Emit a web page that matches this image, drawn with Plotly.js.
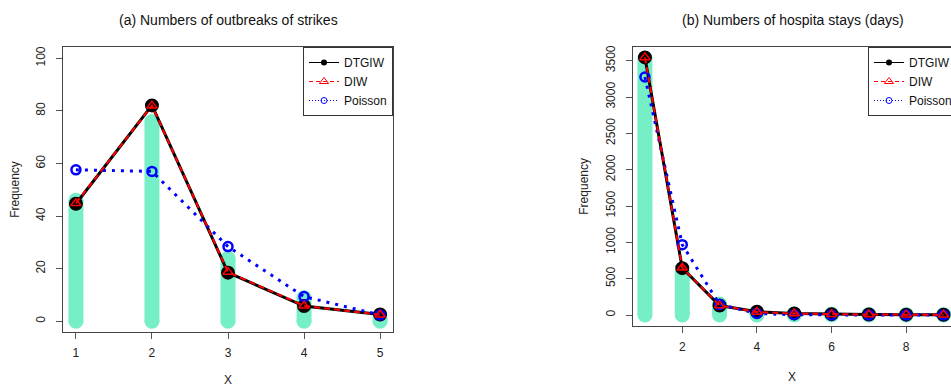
<!DOCTYPE html>
<html>
<head>
<meta charset="utf-8">
<script src="https://cdn.plot.ly/plotly-3.0.1.min.js"></script>
<style>html,body{margin:0;padding:0;background:#fff;}#chart{width:951px;height:387px;}</style>
</head>
<body>
<div id="chart"></div>
<script>
// Panel (a): numbers of outbreaks of strikes
const xA = [1, 2, 3, 4, 5];
const obsA = [46, 76, 24, 9, 1];
const dtgiwA = [44.7, 82.1, 18.5, 5.8, 2.6];
const diwA = [44.9, 82.0, 18.7, 5.9, 2.5];
const poisA = [57.6, 57.0, 28.4, 9.4, 2.4];

// Panel (b): numbers of hospital stays (days)
const xB = [1, 2, 3, 4, 5, 6, 7, 8, 9];
const obsB = [3530, 585, 150, 35, 15, 10, 6, 5, 3];
const dtgiwB = [3545, 645, 130, 45, 22, 12, 7, 5, 3];
const diwB = [3545, 650, 132, 42, 20, 11, 7, 5, 3];
const poisB = [3275, 968, 145, 22, 3, 0.3, 0, 0, 0];

const titleA = "(a) Numbers of outbreaks of strikes";
const titleB = "(b) Numbers of hospita stays (days)";

const BAR = "#76EEC6";
const FONT = "Liberation Sans, Arial, sans-serif";

function stems(xs, ys) {
  const sx = [], sy = [];
  xs.forEach((x, i) => { sx.push(x, x, null); sy.push(0, ys[i], null); });
  return {sx, sy};
}

function panelTraces(xs, obs, dt, di, po, xa, ya, leg) {
  const s = stems(xs, obs);
  return [
    {type: "scatter", mode: "lines+markers", x: s.sx, y: s.sy, xaxis: xa, yaxis: ya,
     line: {color: BAR, width: 15}, marker: {color: BAR, size: 15, line: {width: 0}},
     showlegend: false, hoverinfo: "skip", connectgaps: false},
    {type: "scatter", mode: "lines+markers", x: xs, y: dt, xaxis: xa, yaxis: ya,
     line: {color: "black", width: 3}, marker: {symbol: "circle", color: "black", size: 12, line: {color: "black", width: 2}},
     showlegend: false},
    {type: "scatter", mode: "lines+markers", x: xs, y: po, xaxis: xa, yaxis: ya,
     line: {color: "blue", width: 3, dash: "3px,6px"}, marker: {symbol: "circle-open", color: "blue", size: 9, line: {color: "blue", width: 2.5}},
     showlegend: false},
    {type: "scatter", mode: "lines+markers", x: xs, y: di, xaxis: xa, yaxis: ya,
     line: {color: "red", width: 2, dash: "6px,4px"}, marker: {symbol: "triangle-up-open", color: "red", size: 9, line: {color: "red", width: 1.5}},
     showlegend: false},
    // legend entries
    {type: "scatter", mode: "lines+markers", x: [null], y: [null], xaxis: xa, yaxis: ya, name: "DTGIW", legend: leg,
     line: {color: "black", width: 1}, marker: {symbol: "circle", color: "black", size: 6}},
    {type: "scatter", mode: "lines+markers", x: [null], y: [null], xaxis: xa, yaxis: ya, name: "DIW", legend: leg,
     line: {color: "red", width: 1, dash: "4px,3px"}, marker: {symbol: "triangle-up-open", color: "red", size: 8, line: {color: "red", width: 1}}},
    {type: "scatter", mode: "lines+markers", x: [null], y: [null], xaxis: xa, yaxis: ya, name: "Poisson", legend: leg,
     line: {color: "blue", width: 1, dash: "1px,2px"}, marker: {symbol: "circle-open", color: "blue", size: 6, line: {color: "blue", width: 1}}}
  ];
}

const data = [].concat(
  panelTraces(xA, obsA, dtgiwA, diwA, poisA, "x", "y", "legend"),
  panelTraces(xB, obsB, dtgiwB, diwB, poisB, "x2", "y2", "legend2")
);

const W = 951, H = 387;
const axCommon = {
  showgrid: false, zeroline: false, showline: true, linecolor: "#444", linewidth: 1,
  ticks: "outside", ticklen: 6, tickcolor: "#555", tickwidth: 1,
  tickfont: {family: FONT, size: 12, color: "#222"}, automargin: false
};
const legCommon = {
  bgcolor: "white", bordercolor: "#333", borderwidth: 1,
  font: {family: FONT, size: 12, color: "#111"}, itemwidth: 30, tracegroupgap: 0,
  yanchor: "top", xref: "paper", yref: "paper"
};

const layout = {
  width: W, height: H,
  margin: {l: 0, r: 0, t: 0, b: 0, autoexpand: false},
  paper_bgcolor: "white", plot_bgcolor: "white",
  font: {family: FONT, size: 12, color: "#222"},
  xaxis: Object.assign({}, axCommon, {
    domain: [63 / W, 393 / W], range: [0.83, 5.17], anchor: "y", mirror: true,
    tickvals: xA, ticktext: xA.map(String), ticklabelstandoff: 4,
    title: {text: "X", font: {family: FONT, size: 12, color: "#222"}, standoff: 24}
  }),
  yaxis: Object.assign({}, axCommon, {
    domain: [55 / H, 340 / H], range: [-4.07, 104.3], anchor: "x", mirror: true,
    tickvals: [0, 20, 40, 60, 80, 100], tickangle: -90, ticklabelstandoff: 6,
    title: {text: "Frequency", font: {family: FONT, size: 12, color: "#222"}, standoff: 12}
  }),
  xaxis2: Object.assign({}, axCommon, {
    domain: [633 / W, 1], range: [0.68, 9.2], anchor: "y2", mirror: true,
    tickvals: [2, 4, 6, 8], ticklabelstandoff: 4,
    title: {text: "X", font: {family: FONT, size: 12, color: "#222"}, standoff: 19}
  }),
  yaxis2: Object.assign({}, axCommon, {
    domain: [61.3 / H, 340 / H], range: [-147, 3688], anchor: "x2", mirror: false,
    tickvals: [0, 500, 1000, 1500, 2000, 2500, 3000, 3500], tickangle: -90, ticklabelstandoff: 6,
    title: {text: "Frequency", font: {family: FONT, size: 12, color: "#222"}, standoff: 12}
  }),
  legend: Object.assign({}, legCommon, {x: 393 / W, xanchor: "right", y: 340 / H}),
  legend2: Object.assign({}, legCommon, {x: 868 / W, xanchor: "left", y: 340 / H}),
  annotations: [
    {text: titleA, xref: "paper", yref: "paper", x: 228 / W, y: 1 - 20 / H, xanchor: "center", yanchor: "middle",
     showarrow: false, font: {family: FONT, size: 14, color: "#111"}},
    {text: titleB, xref: "paper", yref: "paper", x: 793 / W, y: 1 - 20 / H, xanchor: "center", yanchor: "middle",
     showarrow: false, font: {family: FONT, size: 14, color: "#111"}}
  ],
  showlegend: true
};

Plotly.newPlot("chart", data, layout, {displayModeBar: false, staticPlot: true});
</script>
</body>
</html>
